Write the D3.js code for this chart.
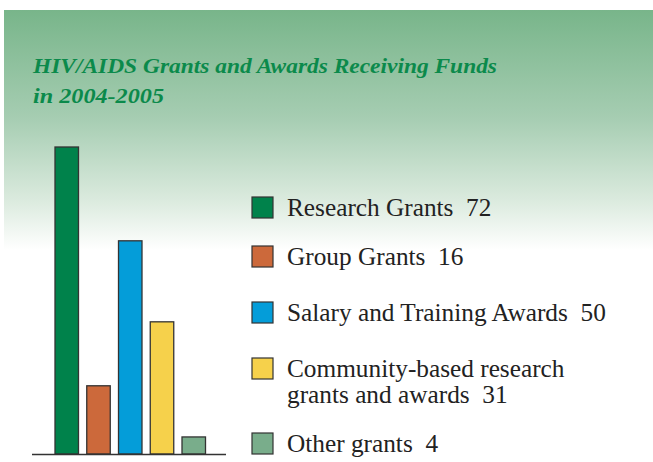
<!DOCTYPE html>
<html>
<head>
<meta charset="utf-8">
<script src="https://cdn.jsdelivr.net/npm/d3@7"></script>
<style>
  body { margin: 0; background: #fff; }
  svg { display: block; }
</style>
</head>
<body>
<svg id="chart" width="653" height="462"></svg>
<script>
// data
const categories = ['Research Grants', 'Group Grants', 'Salary and Training Awards', 'Community-based research grants and awards', 'Other grants']
const values = [72, 16, 50, 31, 4]
const legendLines = [
    ['Research Grants  72'],
    ['Group Grants  16'],
    ['Salary and Training Awards  50'],
    ['Community-based research', 'grants and awards  31'],
    ['Other grants  4']
]
const barColors = ['#00824b', '#cc693b', '#049dd9', '#f6d14b', '#79ad8b']
const titleLines = ['HIV/AIDS Grants and Awards Receiving Funds', 'in 2004-2005']

const width = 653
const height = 462

const svg = d3.select('#chart')

// background panel with green fade
const defs = svg.append('defs')
const grad = defs.append('linearGradient')
    .attr('id', 'bgFade')
    .attr('x1', 0).attr('y1', 0).attr('x2', 0).attr('y2', 1)
grad.append('stop').attr('offset', '0%').attr('stop-color', '#78b58a')
grad.append('stop').attr('offset', '45%').attr('stop-color', '#a6cdb2')
grad.append('stop').attr('offset', '80%').attr('stop-color', '#dcebdf')
grad.append('stop').attr('offset', '100%').attr('stop-color', '#ffffff')

svg.append('rect')
    .attr('x', 4)
    .attr('y', 10)
    .attr('width', width - 4)
    .attr('height', 240)
    .attr('fill', 'url(#bgFade)')

// title
const titleWidths = [464, 131]
svg.append('g')
    .selectAll('text')
    .data(titleLines)
    .enter()
    .append('text')
    .attr('x', 33)
    .attr('y', (d, i) => 73 + i * 30)
    .attr('textLength', (d, i) => titleWidths[i])
    .attr('lengthAdjust', 'spacingAndGlyphs')
    .style('font-family', '"Liberation Serif", "DejaVu Serif", serif')
    .style('font-style', 'italic')
    .style('font-weight', 'bold')
    .style('font-size', '22px')
    .attr('fill', '#0b8a4b')
    .text(d => d)

// bars
const baseline = 454
const xScale = d3.scaleBand()
    .domain(categories)
    .range([55, 205.5])
    .paddingInner(0.26)

const yScale = d3.scaleLinear()
    .domain([0, 72])
    .range([baseline, 147])

const g = svg.append('g')

g.selectAll('rect')
    .data(values)
    .enter()
    .append('rect')
    .attr('x', (d, i) => xScale(categories[i]))
    .attr('y', d => yScale(d))
    .attr('width', xScale.bandwidth())
    .attr('height', d => baseline - yScale(d))
    .attr('fill', (d, i) => barColors[i])
    .attr('stroke', '#333')
    .attr('stroke-width', 1.3)

g.append('line')
    .attr('x1', 32).attr('x2', 226)
    .attr('y1', baseline + 0.5).attr('y2', baseline + 0.5)
    .attr('stroke', '#333')
    .attr('stroke-width', 1.3)

// legend
const legendTops = [197, 246, 302, 358, 433]
const legend = svg.append('g')
    .selectAll('g')
    .data(categories)
    .enter()
    .append('g')
    .attr('transform', (d, i) => 'translate(252,' + legendTops[i] + ')')

legend.append('rect')
    .attr('width', 21)
    .attr('height', 21)
    .attr('fill', (d, i) => barColors[i])
    .attr('stroke', '#333')
    .attr('stroke-width', 1.2)

legend.each(function (d, i) {
    d3.select(this).selectAll('text')
        .data(legendLines[i])
        .enter()
        .append('text')
        .attr('x', 35)
        .attr('y', (t, j) => 18.5 + j * 26.5)
        .style('font-family', '"Liberation Serif", "DejaVu Serif", serif')
        .style('font-size', '25.3px')
        .style('white-space', 'pre')
        .attr('fill', '#222')
        .text(t => t)
})
</script>
</body>
</html>
